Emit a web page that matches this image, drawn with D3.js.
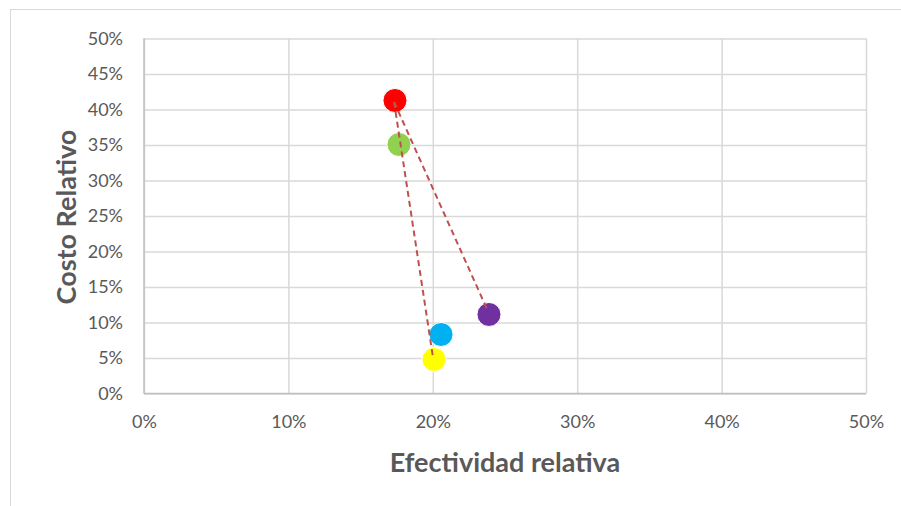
<!DOCTYPE html>
<html>
<head>
  <meta charset="utf-8">
  <title>Costo vs Efectividad</title>
  <style>
    body { margin: 0; background: #fff; }
    text { font-family: Lato, "Open Sans", sans-serif; }
  </style>
</head>
<body>
  <svg width="901" height="506"></svg>
  <script src="https://cdnjs.cloudflare.com/ajax/libs/d3/7.8.5/d3.min.js"></script>
  <script>
    // datos
    let efectividad = [0.1738, 0.1766, 0.2389, 0.2057, 0.2008];
    let costo = [0.4127, 0.3507, 0.1113, 0.0831, 0.0479];
    let colores = ["#FF0000", "#92D050", "#7030A0", "#00B0F0", "#FFFF00"];
    // líneas punteadas (inicio x, inicio y, fin x, fin y)
    let lineasX1 = [0.1732, 0.1732];
    let lineasY1 = [0.4106, 0.4106];
    let lineasX2 = [0.2000, 0.2375];
    let lineasY2 = [0.0528, 0.1190];
    let ticks = [0, 0.1, 0.2, 0.3, 0.4, 0.5];
    let ticksY = [0, 0.05, 0.1, 0.15, 0.2, 0.25, 0.3, 0.35, 0.4, 0.45, 0.5];

    let svg = d3.select("svg");
    let margin = {left: 144, right: 35, top: 38.5, bottom: 112.5};
    let w = 901 - margin.left - margin.right;
    let h = 506 - margin.top - margin.bottom;

    // marco exterior
    svg.append("rect")
       .attr("x", 10.5).attr("y", 9.5)
       .attr("width", 1000).attr("height", 1000)
       .attr("fill", "none").attr("stroke", "#D9D9D9");

    let x = d3.scaleLinear().domain([0, 0.5]).range([0, w]);
    let y = d3.scaleLinear().domain([0, 0.5]).range([h, 0]);
    let g = svg.append("g").attr("transform", "translate(" + margin.left + "," + margin.top + ")");

    let fmt = d3.format(".0%");

    // rejilla
    g.append("g")
     .call(d3.axisLeft(y).tickValues(ticksY).tickSize(-w).tickFormat(""))
     .call(a => a.select(".domain").remove())
     .selectAll("line").attr("stroke", "#D9D9D9").attr("stroke-width", 1.5);
    g.append("g")
     .call(d3.axisBottom(x).tickValues(ticks).tickSize(h).tickFormat(""))
     .call(a => a.select(".domain").remove())
     .selectAll("line").attr("stroke", "#D9D9D9").attr("stroke-width", 1.5);

    // ejes
    let ax = g.append("g").attr("transform", "translate(0," + h + ")")
              .call(d3.axisBottom(x).tickValues(ticks).tickFormat(fmt).tickSize(0).tickPadding(22));
    let ay = g.append("g")
              .call(d3.axisLeft(y).tickValues(ticksY).tickFormat(fmt).tickSize(0).tickPadding(21));
    [ax, ay].forEach(a => {
      a.select(".domain").attr("stroke", "#BFBFBF").attr("stroke-width", 1.5);
      a.selectAll("text").attr("fill", "#595959").style("font-size", "18px");
    });
    ay.select(".domain").attr("d", "M0,0V" + h);
    ax.select(".domain").attr("d", "M0,0H" + w);

    // puntos
    g.selectAll("circle")
     .data(efectividad)
     .enter().append("circle")
     .attr("cx", d => x(d))
     .attr("cy", (d, i) => y(costo[i]))
     .attr("r", 12)
     .attr("fill", (d, i) => colores[i])
     .attr("stroke", "#fff")
     .attr("stroke-width", 1);

    // líneas punteadas
    g.selectAll(".linea")
     .data(lineasX1)
     .enter().append("line")
     .attr("class", "linea")
     .attr("x1", d => x(d))
     .attr("y1", (d, i) => y(lineasY1[i]))
     .attr("x2", (d, i) => x(lineasX2[i]))
     .attr("y2", (d, i) => y(lineasY2[i]))
     .attr("stroke", "#C0504D")
     .attr("stroke-width", 2)
     .attr("stroke-dasharray", "6,4");

    // títulos
    svg.append("text")
       .attr("x", 505).attr("y", 472)
       .attr("text-anchor", "middle")
       .attr("fill", "#595959")
       .style("font-size", "27px").style("font-weight", "bold")
       .text("Efectividad relativa");
    svg.append("text")
       .attr("transform", "translate(76,217) rotate(-90)")
       .attr("text-anchor", "middle")
       .attr("fill", "#595959")
       .style("font-size", "27px").style("font-weight", "bold")
       .text("Costo Relativo");
  </script>
</body>
</html>
